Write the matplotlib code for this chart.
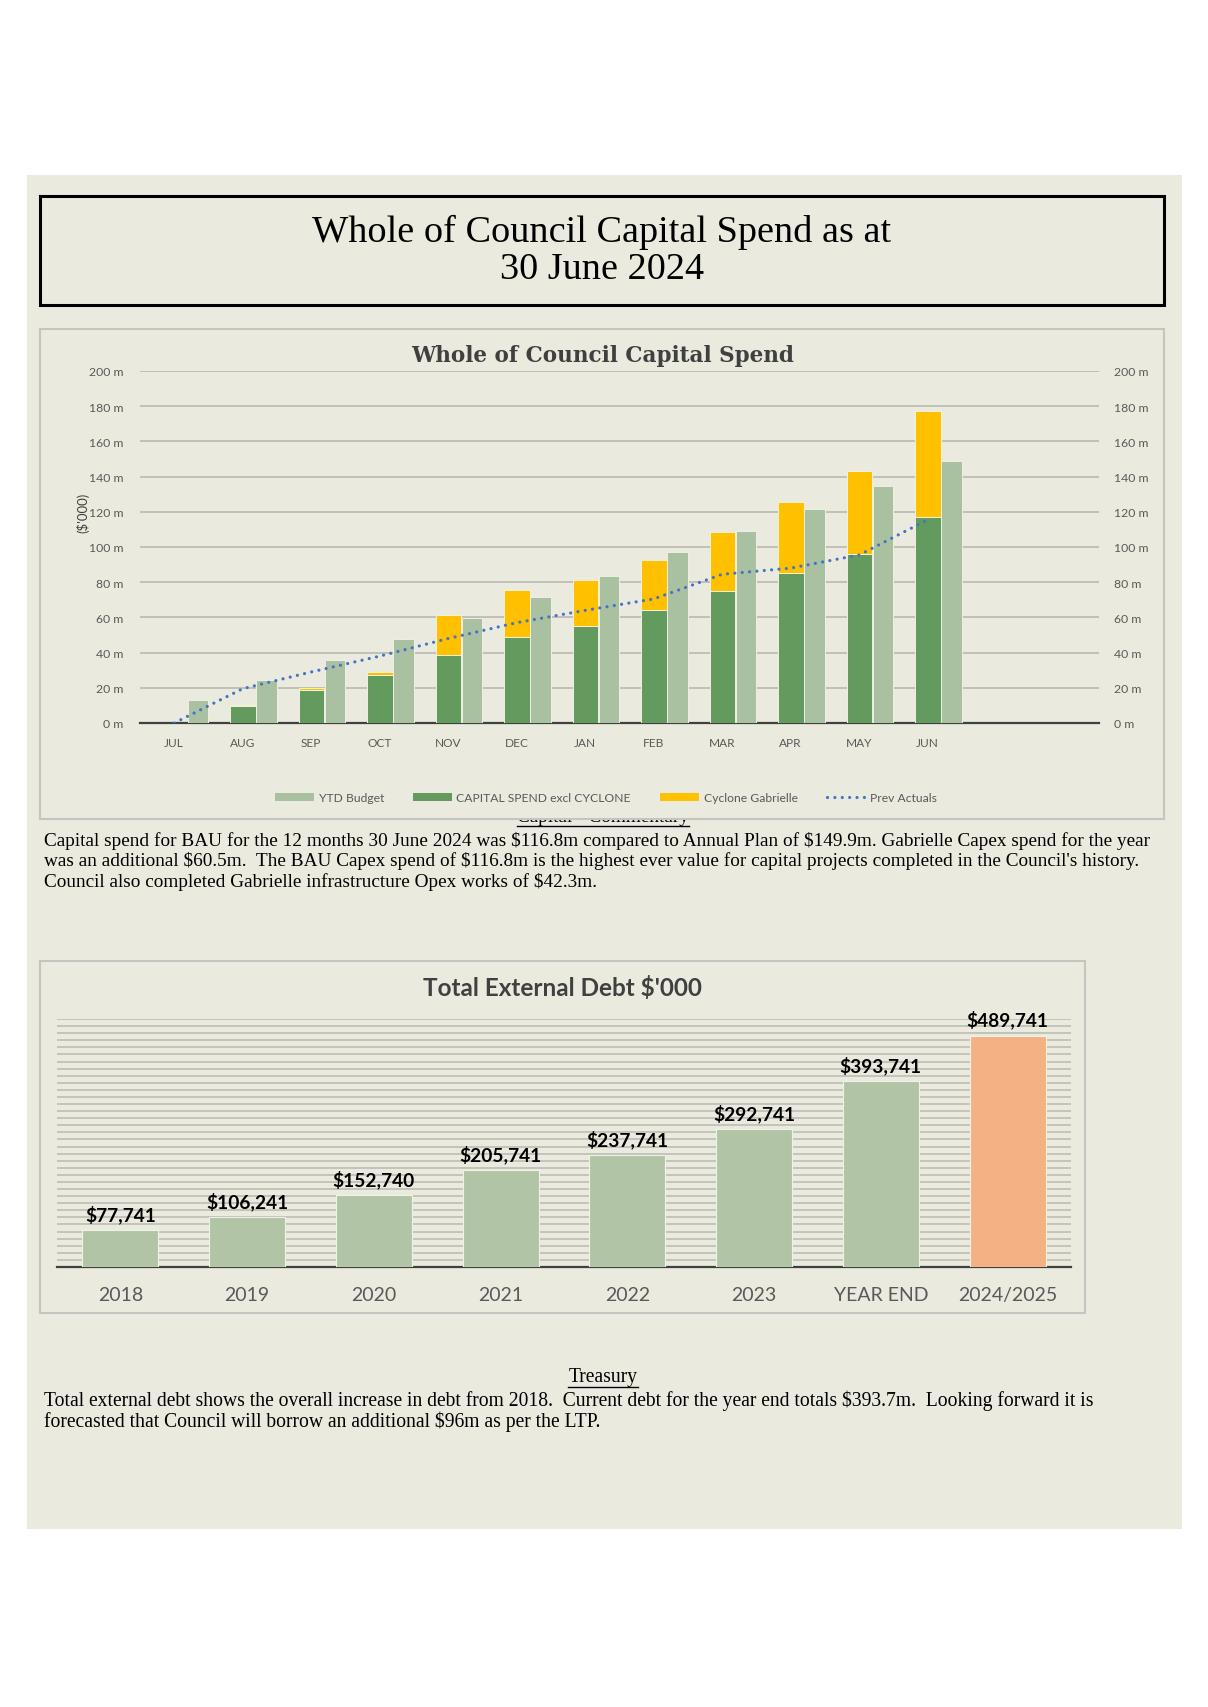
import numpy as np
import matplotlib
matplotlib.use("Agg")
import matplotlib.pyplot as plt
from matplotlib.patches import Rectangle, Patch
from matplotlib.lines import Line2D

# --- data: capital spend ($m, cumulative YTD) ---
months = ["JUL", "AUG", "SEP", "OCT", "NOV", "DEC", "JAN", "FEB", "MAR", "APR", "MAY", "JUN"]
capital_excl_cyclone = [0, 9.5, 19, 27.2, 38.4, 49, 55.3, 64.2, 75.2, 85.1, 95.9, 116.8]
cyclone_gabrielle = [0, 0.6, 1.1, 1.5, 22.8, 26.6, 25.8, 28.5, 33.6, 40.4, 47.5, 60.5]
ytd_budget = [13, 24.3, 35.7, 47.5, 59.8, 71.8, 83.4, 96.9, 109.2, 121.7, 134.7, 149]
prev_actuals = [0, 19.5, 29, 38, 48, 57, 64, 70.5, 84.5, 88, 95.5, 115.5]
spend_ticks = [0, 20, 40, 60, 80, 100, 120, 140, 160, 180, 200]

# --- data: total external debt ($'000) ---
debt_years = ["2018", "2019", "2020", "2021", "2022", "2023", "YEAR END", "2024/2025"]
debt_values = [77741, 106241, 152740, 205741, 237741, 292741, 393741, 489741]

title_lines = ["Whole of Council Capital Spend as at", "30 June 2024"]
commentary = [
    "Capital spend for BAU for the 12 months 30 June 2024 was $116.8m compared to Annual Plan of $149.9m. Gabrielle Capex spend for the year",
    "was an additional $60.5m.  The BAU Capex spend of $116.8m is the highest ever value for capital projects completed in the Council's history.",
    "Council also completed Gabrielle infrastructure Opex works of $42.3m.",
]
treasury = [
    "Total external debt shows the overall increase in debt from 2018.  Current debt for the year end totals $393.7m.  Looking forward it is",
    "forecasted that Council will borrow an additional $96m as per the LTP.",
]

W, H = 1208, 1708
BG = "#EAEBDE"
C_BUDGET = "#A9C1A0"
C_SPEND = "#639B5F"
C_CYCLONE = "#FFC000"
C_PREV = "#4472C4"
C_GRID = "#BDBDB3"
C_TXT = "#595959"
BODY_FONT = "Liberation Serif"


def fx(x):
    return x / W


def fy(y):
    return 1 - y / H


def box(x0, y0, x1, y1):
    return [fx(x0), fy(y1), (x1 - x0) / W, (y1 - y0) / H]


fig = plt.figure(figsize=(W / 100, H / 100), dpi=100, facecolor="white")

# page background
fig.add_artist(Rectangle((fx(27), fy(1530)), (1182 - 27) / W, (1530 - 176) / H,
                         transform=fig.transFigure, facecolor=BG, edgecolor="none", zorder=0))

# title box
fig.add_artist(Rectangle((fx(40), fy(306)), (1164 - 40) / W, (306 - 197) / H,
                         transform=fig.transFigure, facecolor="none", edgecolor="black",
                         linewidth=2.2, zorder=1))
fig.text(0.5 * (fx(40) + fx(1164)), fy(232), title_lines[0], ha="center", va="center",
         family=BODY_FONT, fontsize=27.5)
fig.text(0.5 * (fx(40) + fx(1164)), fy(270), title_lines[1], ha="center", va="center",
         family=BODY_FONT, fontsize=27.5)

# commentary heading (partly hidden by the chart frame, as in the source)
head1 = fig.text(fx(603), fy(818), "Capital - Commentary", ha="center", va="center",
                 family=BODY_FONT, fontsize=13.9, zorder=1)

# chart 1 frame
fig.add_artist(Rectangle((fx(40), fy(820)), (1164 - 40) / W, (820 - 330) / H,
                         transform=fig.transFigure, facecolor=BG, edgecolor="#C4C4C0",
                         linewidth=1.5, zorder=2))

# ---------------- chart 1 ----------------
ax = fig.add_axes(box(140, 372, 1099, 724))
ax.set_zorder(3)
ax.patch.set_visible(False)
x = np.arange(len(months))
ax.bar(x + 0.005, capital_excl_cyclone, width=0.37, color=C_SPEND, edgecolor="#EEF0E2",
       linewidth=0.7, zorder=3)
ax.bar(x + 0.005, cyclone_gabrielle, width=0.37, bottom=capital_excl_cyclone, color=C_CYCLONE,
       edgecolor="#F6F1D8", linewidth=0.7, zorder=3)
ax.bar(x + 0.345, ytd_budget, width=0.30, color=C_BUDGET, edgecolor="#EEF0E2",
       linewidth=0.7, zorder=3)
ax.plot(x, prev_actuals, color=C_PREV, linewidth=2.3, linestyle=(0, (0.01, 2.3)),
        dash_capstyle="round", zorder=4)

ax.set_xlim(-0.5, 13.5)
ax.set_ylim(0, 200)
ax.set_yticks(spend_ticks)
ax.set_yticklabels([f"{v} m" for v in spend_ticks], family="Lato", fontsize=8.8, color=C_TXT)
ax.set_xticks(x)
ax.set_xticklabels(months, family="Lato", fontsize=8.6, color=C_TXT)
ax.tick_params(axis="both", length=0)
ax.tick_params(axis="y", pad=12)
ax.tick_params(axis="x", pad=10)
ax.grid(axis="y", color=C_GRID, linewidth=1.3, zorder=0)
ax.set_axisbelow(True)
for s in ["top", "right", "left"]:
    ax.spines[s].set_visible(False)
ax.spines["bottom"].set_color("#404040")
ax.spines["bottom"].set_linewidth(1.6)
ax.set_ylabel("($'000)", family="Lato", fontsize=9.5, color="#404040")
ax.yaxis.set_label_coords(-0.053, 0.6)

ax2 = ax.twinx()
ax2.set_ylim(0, 200)
ax2.set_yticks(spend_ticks)
ax2.set_yticklabels([f"{v} m" for v in spend_ticks], family="Lato", fontsize=8.8, color=C_TXT)
ax2.tick_params(axis="y", length=0, pad=11)
for s in ax2.spines.values():
    s.set_visible(False)

fig.text(fx(603), fy(356), "Whole of Council Capital Spend", ha="center", va="center",
         family="DejaVu Serif", fontweight="bold", fontsize=15.5, color="#404040", zorder=4)

handles = [
    Patch(facecolor=C_BUDGET, edgecolor="none"),
    Patch(facecolor=C_SPEND, edgecolor="none"),
    Patch(facecolor=C_CYCLONE, edgecolor="none"),
    Line2D([], [], color=C_PREV, linewidth=2.3, linestyle=(0, (0.01, 2.3)), dash_capstyle="round"),
]
labels = ["YTD Budget", "CAPITAL SPEND excl CYCLONE", "Cyclone Gabrielle", "Prev Actuals"]
leg = fig.legend(handles, labels, loc="center", bbox_to_anchor=(fx(606), fy(799)), ncol=4,
                 frameon=False, prop={"family": "Lato", "size": 8.7}, handlelength=3.2,
                 handleheight=0.6, handletextpad=0.4, columnspacing=2.4)
for t in leg.get_texts():
    t.set_color(C_TXT)
leg.set_zorder(5)

# commentary text
for i, line in enumerate(commentary):
    fig.text(fx(44), fy(841 + 20.5 * i), line, ha="left", va="center", parse_math=False,
             family=BODY_FONT, fontsize=13.9, zorder=4)

# ---------------- chart 2 ----------------
fig.add_artist(Rectangle((fx(40), fy(1314)), (1085 - 40) / W, (1314 - 962) / H,
                         transform=fig.transFigure, facecolor=BG, edgecolor="#C4C4C0",
                         linewidth=1.5, zorder=2))
bx = fig.add_axes(box(57, 1020, 1071, 1268))
bx.set_zorder(3)
bx.patch.set_visible(False)
xd = np.arange(len(debt_years))
bar_colors = ["#B1C5A6"] * (len(debt_years) - 1) + ["#F4B183"]
bx.bar(xd, debt_values, width=0.6, color=bar_colors, edgecolor="#F0F2E6", linewidth=0.8, zorder=3)
for xi, v in zip(xd, debt_values):
    bx.annotate(f"${v:,}", (xi, v), xytext=(0, 5), textcoords="offset points", ha="center",
                va="bottom", family="Lato", fontweight="bold", fontsize=13.8, color="black",
                annotation_clip=False, parse_math=False)
bx.set_xlim(-0.5, len(debt_years) - 0.5)
bx.set_ylim(0, 525000)
bx.set_yticks(np.arange(0, 525001, 15000))
bx.yaxis.set_ticklabels([])
bx.grid(axis="y", color="#BDBDB3", linewidth=1.2, zorder=0)
bx.set_axisbelow(True)
bx.set_xticks(xd)
bx.set_xticklabels(debt_years, family="Lato", fontsize=14, color=C_TXT)
bx.tick_params(axis="both", length=0)
bx.tick_params(axis="x", pad=14)
for s in ["top", "right", "left"]:
    bx.spines[s].set_visible(False)
bx.spines["bottom"].set_color("#404040")
bx.spines["bottom"].set_linewidth(1.6)

fig.text(fx(562), fy(988), "Total External Debt $'000", ha="center", va="center",
         family="Lato", fontweight="bold", fontsize=17.5, color="#404040", zorder=4,
         parse_math=False)

# treasury
head2 = fig.text(fx(603), fy(1378), "Treasury", ha="center", va="center",
                 family=BODY_FONT, fontsize=14.1, zorder=4)
for i, line in enumerate(treasury):
    fig.text(fx(44), fy(1401 + 20.5 * i), line, ha="left", va="center", parse_math=False,
             family=BODY_FONT, fontsize=14.1, zorder=4)

# underlines for headings
fig.canvas.draw()
r = fig.canvas.get_renderer()
for t, uy, z in [(head1, 827, 1), (head2, 1388, 4)]:
    bb = t.get_window_extent(renderer=r)
    fig.add_artist(Line2D([bb.x0 / W, bb.x1 / W], [fy(uy), fy(uy)], transform=fig.transFigure,
                          color="black", linewidth=1.0, zorder=z))

fig.savefig("out.png", dpi=100, facecolor="white")
